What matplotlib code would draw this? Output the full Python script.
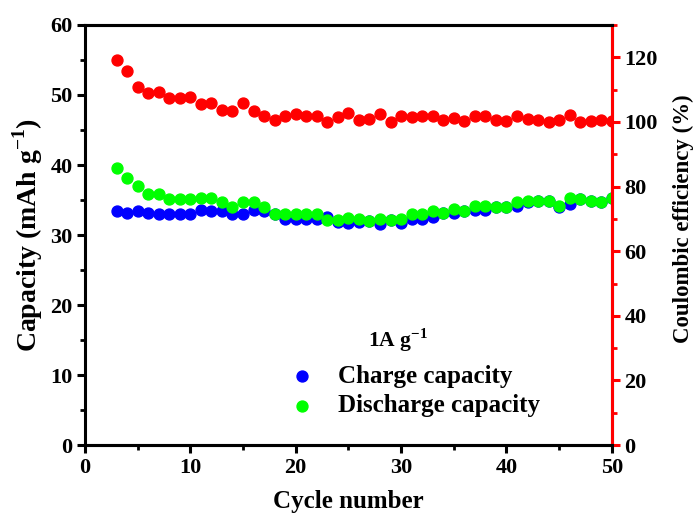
import matplotlib
matplotlib.use("Agg")
import matplotlib.pyplot as plt
from matplotlib.ticker import MultipleLocator

plt.rcParams["font.family"] = ["Liberation Serif", "DejaVu Serif"]
plt.rcParams["font.weight"] = "bold"
plt.rcParams["mathtext.fontset"] = "custom"
plt.rcParams["mathtext.rm"] = "Liberation Serif:bold"
plt.rcParams["mathtext.bf"] = "Liberation Serif:bold"

cycles = list(range(3, 51))

charge = [33.4, 33.1, 33.4, 33.1, 33.0, 33.0, 33.0, 33.0, 33.6, 33.5,
          33.5, 33.0, 33.0, 33.6, 33.5, 33.0, 32.3, 32.3, 32.3, 32.3,
          32.6, 31.9, 31.7, 31.9, 32.0, 31.6, 32.2, 31.7, 32.3, 32.3,
          32.6, 33.1, 33.1, 33.4, 33.6, 33.6, 34.0, 34.0, 34.1, 34.7,
          34.8, 34.9, 34.0, 34.5, 35.2, 34.8, 34.7, 35.3]

discharge = [39.6, 38.2, 37.0, 35.8, 35.9, 35.2, 35.2, 35.2, 35.3, 35.3,
             34.7, 34.0, 34.7, 34.7, 34.0, 33.0, 33.0, 33.0, 33.0, 33.0,
             32.2, 32.2, 32.4, 32.3, 32.0, 32.3, 32.2, 32.3, 33.0, 33.0,
             33.5, 33.1, 33.7, 33.5, 34.1, 34.1, 34.0, 34.0, 34.7, 34.9,
             34.8, 34.8, 34.1, 35.3, 35.2, 34.8, 34.7, 35.3]

efficiency = [119.2, 115.8, 110.9, 108.9, 109.2, 107.3, 107.3, 107.6, 105.6, 105.8,
              103.7, 103.3, 105.8, 103.5, 101.9, 100.5, 101.7, 102.6, 101.7, 101.7,
              100.0, 101.5, 102.7, 100.5, 100.9, 102.6, 100.0, 101.9, 101.5, 101.7,
              101.9, 100.7, 101.1, 100.4, 101.9, 101.7, 100.5, 100.2, 101.9, 101.0,
              100.6, 100.0, 100.5, 102.2, 100.1, 100.3, 100.6, 100.4]

fig = plt.figure(figsize=(7, 5.28), dpi=100)
ax = fig.add_axes([0.1214, 0.157, 0.7526, 0.7957])
ax2 = ax.twinx()

ax.scatter(cycles, charge, s=62, color="#0000ff", label="Charge capacity", zorder=3)
ax.scatter(cycles, discharge, s=62, color="#00ff00", label="Discharge capacity", zorder=4)
ax2.scatter(cycles, efficiency, s=62, color="#ff0000", zorder=3)

ax.set_xlim(0, 50)
ax.set_ylim(0, 60)
ax2.set_ylim(0, 130)

ax.xaxis.set_major_locator(MultipleLocator(10))
ax.xaxis.set_minor_locator(MultipleLocator(5))
ax.yaxis.set_major_locator(MultipleLocator(10))
ax.yaxis.set_minor_locator(MultipleLocator(5))
ax2.yaxis.set_major_locator(MultipleLocator(20))
ax2.yaxis.set_minor_locator(MultipleLocator(10))

for sp in ax.spines.values():
    sp.set_linewidth(2.2)
for sp in ax2.spines.values():
    sp.set_linewidth(2.2)
ax2.spines["right"].set_color("#ff0000")
ax2.spines["left"].set_visible(False)

ax.tick_params(which="major", direction="out", length=6, width=2.2, labelsize=16, pad=3)
ax.tick_params(which="minor", direction="out", length=3.5, width=2.0)
ax.tick_params(top=False, right=False, which="both")
ax2.tick_params(which="major", direction="out", length=6, width=2.2, pad=3,
                color="#ff0000", labelsize=16, labelcolor="black")
ax2.tick_params(which="minor", direction="out", length=3.5, width=2.0, color="#ff0000")

ax.set_xlabel("Cycle number", fontsize=18, fontweight="bold", labelpad=9)
ax.set_ylabel("Capacity (mAh g$^{-1}$)", fontsize=20, fontweight="bold")
ax.yaxis.set_label_coords(-0.076, 0.5)
ax2.set_ylabel("Coulombic efficiency (%)", fontsize=16.5, fontweight="bold")
ax2.yaxis.set_label_coords(1.115, 0.54)

ax.legend(loc="center left", bbox_to_anchor=(0.369, 0.1286), frameon=False,
          fontsize=18, handlelength=1.0, handletextpad=0.94,
          borderaxespad=0, labelspacing=0.25, scatterpoints=1)
ax.text(0.594, 0.25, "1A g$^{-1}$", transform=ax.transAxes, ha="center", va="center",
        fontsize=15.5, fontweight="bold")

fig.savefig("out.png", dpi=100)
